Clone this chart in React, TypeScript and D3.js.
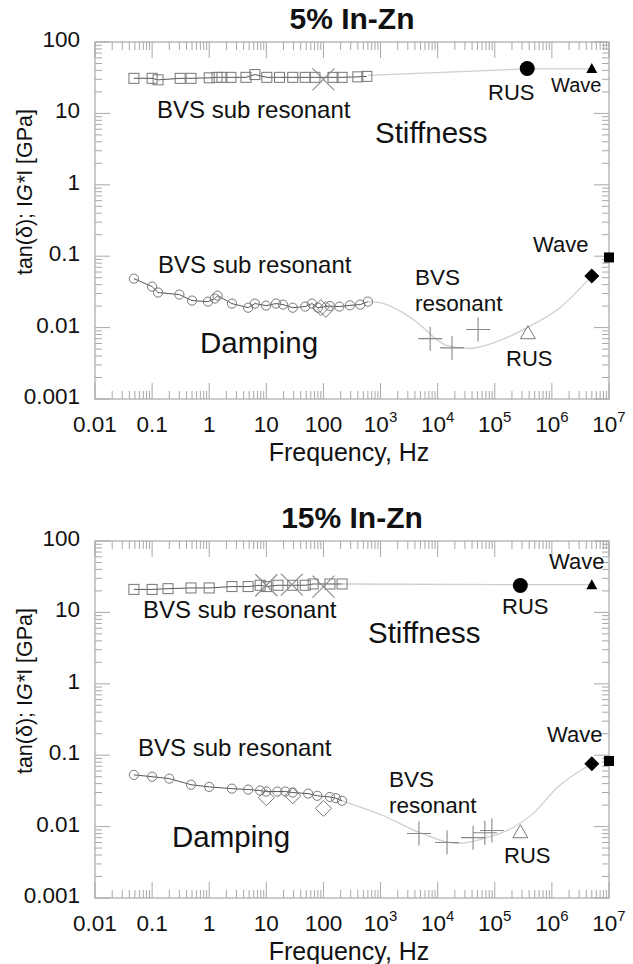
import React from "react";
import * as d3 from "d3";

// frequency (Hz), value
const xTicks = [0.01, 0.1, 1, 10, 100, 1e3, 1e4, 1e5, 1e6, 1e7];
const yTicks = [0.001, 0.01, 0.1, 1, 10, 100];

// ---- 5% In-Zn ----
const stiffSub5 = [
  [0.048, 31], [0.1, 31], [0.127, 29.5], [0.31, 31], [0.48, 31], [1, 31.5],
  [1.37, 32], [1.67, 32], [2.4, 32], [4.4, 32], [6.3, 35], [10.2, 32],
  [17, 32], [29, 32], [48, 32], [71, 32], [147, 32], [212, 32], [400, 32.5], [575, 33],
];
const stiffX5 = [[100, 30]];
const stiffTrend5 = [[600, 34], [3.7e5, 42], [5e6, 42]];
const rusStiff5 = [[3.7e5, 42.5]];
const waveStiff5 = [[5e6, 42]];
const dampSub5 = [
  [0.048, 0.0485], [0.1, 0.0375], [0.127, 0.031], [0.3, 0.029], [0.5, 0.0239],
  [0.95, 0.0231], [1.25, 0.0255], [1.4, 0.028], [2.5, 0.0217], [4.8, 0.019],
  [6.3, 0.0217], [9.9, 0.0203], [14.8, 0.0217], [19.6, 0.021], [29, 0.019],
  [48, 0.0197], [63, 0.0217], [80, 0.019], [130, 0.02], [190, 0.0197],
  [290, 0.0205], [440, 0.021], [600, 0.0231],
];
const dampDiamonds5 = [[90, 0.019], [110, 0.018]];
const dampCrosses5 = [[7400, 0.007], [17800, 0.0052], [51000, 0.0094]];
const dampTrend5 = [
  [600, 0.0231], [980, 0.0224], [2200, 0.017], [4000, 0.0125], [14600, 0.0056],
  [36900, 0.0051], [123000, 0.0066], [368000, 0.01], [1.38e6, 0.019], [5e6, 0.053],
];
const rusDamp5 = [[3.8e5, 0.0082]];
const waveDiamond5 = [[5e6, 0.053]];
const waveSquare5 = [[1e7, 0.096]];

// ---- 15% In-Zn ----
const stiffSub15 = [
  [0.048, 21], [0.1, 21], [0.19, 21.5], [0.48, 22], [1, 22], [2.5, 23], [4.8, 23],
  [7.8, 24], [10, 23], [16, 24], [29, 24], [48, 24], [66, 25], [130, 25], [212, 25],
];
const stiffX15 = [[10, 24], [28, 24.5], [100, 23]];
const stiffTrend15 = [[212, 25], [2.8e5, 24.5], [5e6, 24.5]];
const rusStiff15 = [[2.8e5, 23.8]];
const waveStiff15 = [[5e6, 24]];
const dampSub15 = [
  [0.048, 0.053], [0.1, 0.05], [0.2, 0.047], [0.48, 0.0386], [1, 0.036],
  [2.5, 0.034], [4.8, 0.033], [7.8, 0.032], [10, 0.031], [15.6, 0.031],
  [21.5, 0.031], [29, 0.03], [54, 0.029], [78, 0.027], [130, 0.026],
  [165, 0.025], [212, 0.023],
];
const dampDiamonds15 = [[10, 0.0254], [29, 0.027], [100, 0.018]];
const dampCrosses15 = [[4700, 0.008], [14600, 0.006], [41700, 0.007], [67000, 0.0082], [89000, 0.0088]];
const dampTrend15 = [
  [212, 0.023], [1100, 0.0143], [4900, 0.0082], [22000, 0.0058], [72000, 0.007],
  [2.1e5, 0.0097], [4.7e5, 0.0152], [1.23e6, 0.035], [5e6, 0.076],
];
const rusDamp15 = [[2.8e5, 0.0082]];
const waveDiamond15 = [[5e6, 0.076]];
const waveSquare15 = [[1e7, 0.083]];

// annotation text: x in px, y = baseline offset from panel top
const labels5 = [
  { t: "BVS sub resonant", x: 157, y: 76, s: 24 },
  { t: "Stiffness", x: 375, y: 101, s: 29.5 },
  { t: "RUS", x: 488, y: 58, s: 22 },
  { t: "Wave", x: 551, y: 50, s: 20 },
  { t: "BVS sub resonant", x: 158, y: 231, s: 24 },
  { t: "Damping", x: 200, y: 311, s: 29.5 },
  { t: "BVS", x: 415, y: 243, s: 22.5 },
  { t: "resonant", x: 415, y: 269, s: 22.5 },
  { t: "RUS", x: 506, y: 324, s: 22 },
  { t: "Wave", x: 533, y: 210, s: 22 },
];
const labels15 = [
  { t: "BVS sub resonant", x: 143, y: 77, s: 24 },
  { t: "Stiffness", x: 368, y: 102, s: 29.5 },
  { t: "RUS", x: 502, y: 73, s: 22 },
  { t: "Wave", x: 549, y: 28, s: 22 },
  { t: "BVS sub resonant", x: 138, y: 215, s: 24 },
  { t: "Damping", x: 172, y: 306, s: 29.5 },
  { t: "BVS", x: 389, y: 246, s: 22.5 },
  { t: "resonant", x: 389, y: 272, s: 22.5 },
  { t: "RUS", x: 504, y: 322, s: 22 },
  { t: "Wave", x: 547, y: 201, s: 22 },
];

const FONT = "'Liberation Sans', Arial, sans-serif";
const AXIS = "#a8a8a8";
const MARK = "#777";
const LEFT = 95;
const RIGHT = 609;
const H = 357;

function tickLabel(v: number) {
  if (v >= 1000) {
    const e = Math.round(Math.log10(v));
    return (
      <>
        <tspan>10</tspan>
        <tspan dy={-10} fontSize={15}>{e}</tspan>
      </>
    );
  }
  return String(v);
}

function Panel({ top, title, d, labels }: any) {
  const x = d3.scaleLog().domain([0.01, 1e7]).range([LEFT, RIGHT]);
  const y = d3.scaleLog().domain([0.001, 100]).range([top + H, top]);
  const bottom = top + H;
  const line = d3.line<number[]>().x((p) => x(p[0])).y((p) => y(p[1]));
  const smooth = d3.line<number[]>().x((p) => x(p[0])).y((p) => y(p[1])).curve(d3.curveMonotoneX);

  const xMinor: number[] = [];
  for (let e = -2; e < 7; e++) for (let k = 2; k < 10; k++) xMinor.push(k * Math.pow(10, e));
  const yMinor: number[] = [];
  for (let e = -3; e < 2; e++) for (let k = 2; k < 10; k++) yMinor.push(k * Math.pow(10, e));

  return (
    <g>
      <text x={(LEFT + RIGHT) / 2} y={top - 13} textAnchor="middle" fontWeight="bold" fontSize={30} fill="#111">
        {title}
      </text>
      {/* frame */}
      <rect x={LEFT} y={top} width={RIGHT - LEFT} height={H} fill="none" stroke={AXIS} strokeWidth={1.2} />
      {/* x ticks */}
      {xMinor.map((t, i) => (
        <g key={"xm" + i} stroke={AXIS} strokeWidth={1}>
          <line x1={x(t)} x2={x(t)} y1={bottom} y2={bottom - 8} />
          <line x1={x(t)} x2={x(t)} y1={top} y2={top + 8} />
        </g>
      ))}
      {xTicks.map((t, i) => (
        <g key={"xM" + i} stroke={AXIS} strokeWidth={1}>
          <line x1={x(t)} x2={x(t)} y1={bottom} y2={bottom - 16} />
          <line x1={x(t)} x2={x(t)} y1={top} y2={top + 16} />
        </g>
      ))}
      {/* y ticks */}
      {yMinor.map((t, i) => (
        <g key={"ym" + i} stroke={AXIS} strokeWidth={1}>
          <line x1={LEFT} x2={LEFT + 7} y1={y(t)} y2={y(t)} />
          <line x1={RIGHT} x2={RIGHT - 7} y1={y(t)} y2={y(t)} />
        </g>
      ))}
      {yTicks.map((t, i) => (
        <g key={"yM" + i} stroke={AXIS} strokeWidth={1}>
          <line x1={LEFT} x2={LEFT + 15} y1={y(t)} y2={y(t)} />
          <line x1={RIGHT} x2={RIGHT - 15} y1={y(t)} y2={y(t)} />
        </g>
      ))}
      {/* tick labels */}
      {xTicks.map((t, i) => (
        <text key={"xl" + i} x={x(t)} y={bottom + 33} textAnchor="middle" fontSize={22.5} fill="#111">
          {tickLabel(t)}
        </text>
      ))}
      {yTicks.map((t, i) => (
        <text key={"yl" + i} x={80} y={y(t) + 5} textAnchor="end" fontSize={22.5} fill="#111">
          {String(t)}
        </text>
      ))}
      <text x={(LEFT + RIGHT) / 2 - 3} y={bottom + 62} textAnchor="middle" fontSize={25} fill="#111">
        Frequency, Hz
      </text>
      <text transform={`translate(32,${top + 150}) rotate(-90)`} textAnchor="middle" fontSize={21.5} fill="#111">
        tan(δ); I<tspan fontStyle="italic">G*</tspan>I [GPa]
      </text>

      {/* trend curves */}
      <path d={line(d.stiffTrend) || ""} fill="none" stroke="#cfcfcf" strokeWidth={1.3} />
      <path d={smooth(d.dampTrend) || ""} fill="none" stroke="#cfcfcf" strokeWidth={1.3} />
      {/* sub resonant connecting lines */}
      <path d={line(d.stiffSub) || ""} fill="none" stroke="#555" strokeWidth={1} />
      <path d={line(d.dampSub) || ""} fill="none" stroke="#555" strokeWidth={1} />

      {d.stiffSub.map((p: number[], i: number) => (
        <rect key={"sq" + i} x={x(p[0]) - 5} y={y(p[1]) - 5} width={10} height={10} fill="none" stroke={MARK} strokeWidth={1} />
      ))}
      {d.stiffX.map((p: number[], i: number) => {
        const cx = x(p[0]), cy = y(p[1]), r = 11;
        return (
          <path key={"x" + i} d={`M${cx - r},${cy - r}L${cx + r},${cy + r}M${cx - r},${cy + r}L${cx + r},${cy - r}`} stroke="#888" strokeWidth={1.1} />
        );
      })}
      {d.dampSub.map((p: number[], i: number) => (
        <circle key={"c" + i} cx={x(p[0])} cy={y(p[1])} r={4.6} fill="none" stroke={MARK} strokeWidth={1} />
      ))}
      {d.dampDiamonds.map((p: number[], i: number) => {
        const cx = x(p[0]), cy = y(p[1]), r = 8;
        return (
          <path key={"dm" + i} d={`M${cx},${cy - r}L${cx + r},${cy}L${cx},${cy + r}L${cx - r},${cy}Z`} fill="none" stroke={MARK} strokeWidth={1} />
        );
      })}
      {d.dampCrosses.map((p: number[], i: number) => {
        const cx = x(p[0]), cy = y(p[1]), r = 12;
        return (
          <path key={"pl" + i} d={`M${cx - r},${cy}L${cx + r},${cy}M${cx},${cy - r}L${cx},${cy + r}`} stroke="#888" strokeWidth={1.1} />
        );
      })}
      {d.rusDamp.map((p: number[], i: number) => {
        const cx = x(p[0]), cy = y(p[1]);
        return (
          <path key={"rt" + i} d={`M${cx},${cy - 8}L${cx + 7.5},${cy + 5}L${cx - 7.5},${cy + 5}Z`} fill="none" stroke={MARK} strokeWidth={1} />
        );
      })}
      {d.rusStiff.map((p: number[], i: number) => (
        <circle key={"rc" + i} cx={x(p[0])} cy={y(p[1])} r={7.5} fill="#000" />
      ))}
      {d.waveStiff.map((p: number[], i: number) => {
        const cx = x(p[0]), cy = y(p[1]);
        return <path key={"wt" + i} d={`M${cx},${cy - 6}L${cx + 5.5},${cy + 4}L${cx - 5.5},${cy + 4}Z`} fill="#000" />;
      })}
      {d.waveDiamond.map((p: number[], i: number) => {
        const cx = x(p[0]), cy = y(p[1]), r = 7.5;
        return <path key={"wd" + i} d={`M${cx},${cy - r}L${cx + r},${cy}L${cx},${cy + r}L${cx - r},${cy}Z`} fill="#000" />;
      })}
      {d.waveSquare.map((p: number[], i: number) => (
        <rect key={"ws" + i} x={x(p[0]) - 5} y={y(p[1]) - 5} width={10} height={10} fill="#000" />
      ))}

      {labels.map((l: any, i: number) => (
        <text key={"lab" + i} x={l.x} y={top + l.y} fontSize={l.s} fill="#111">
          {l.t}
        </text>
      ))}
    </g>
  );
}

export default function App() {
  const d5 = {
    stiffSub: stiffSub5, stiffX: stiffX5, stiffTrend: stiffTrend5, rusStiff: rusStiff5, waveStiff: waveStiff5,
    dampSub: dampSub5, dampDiamonds: dampDiamonds5, dampCrosses: dampCrosses5, dampTrend: dampTrend5,
    rusDamp: rusDamp5, waveDiamond: waveDiamond5, waveSquare: waveSquare5,
  };
  const d15 = {
    stiffSub: stiffSub15, stiffX: stiffX15, stiffTrend: stiffTrend15, rusStiff: rusStiff15, waveStiff: waveStiff15,
    dampSub: dampSub15, dampDiamonds: dampDiamonds15, dampCrosses: dampCrosses15, dampTrend: dampTrend15,
    rusDamp: rusDamp15, waveDiamond: waveDiamond15, waveSquare: waveSquare15,
  };
  return (
    <svg
      width={633}
      height={964}
      style={{ position: "absolute", left: 0, top: 0, background: "#fff" }}
      fontFamily={FONT}
    >
      <rect width={633} height={964} fill="#fff" />
      <Panel top={42} title="5% In-Zn" d={d5} labels={labels5} />
      <Panel top={541} title="15% In-Zn" d={d15} labels={labels15} />
    </svg>
  );
}
